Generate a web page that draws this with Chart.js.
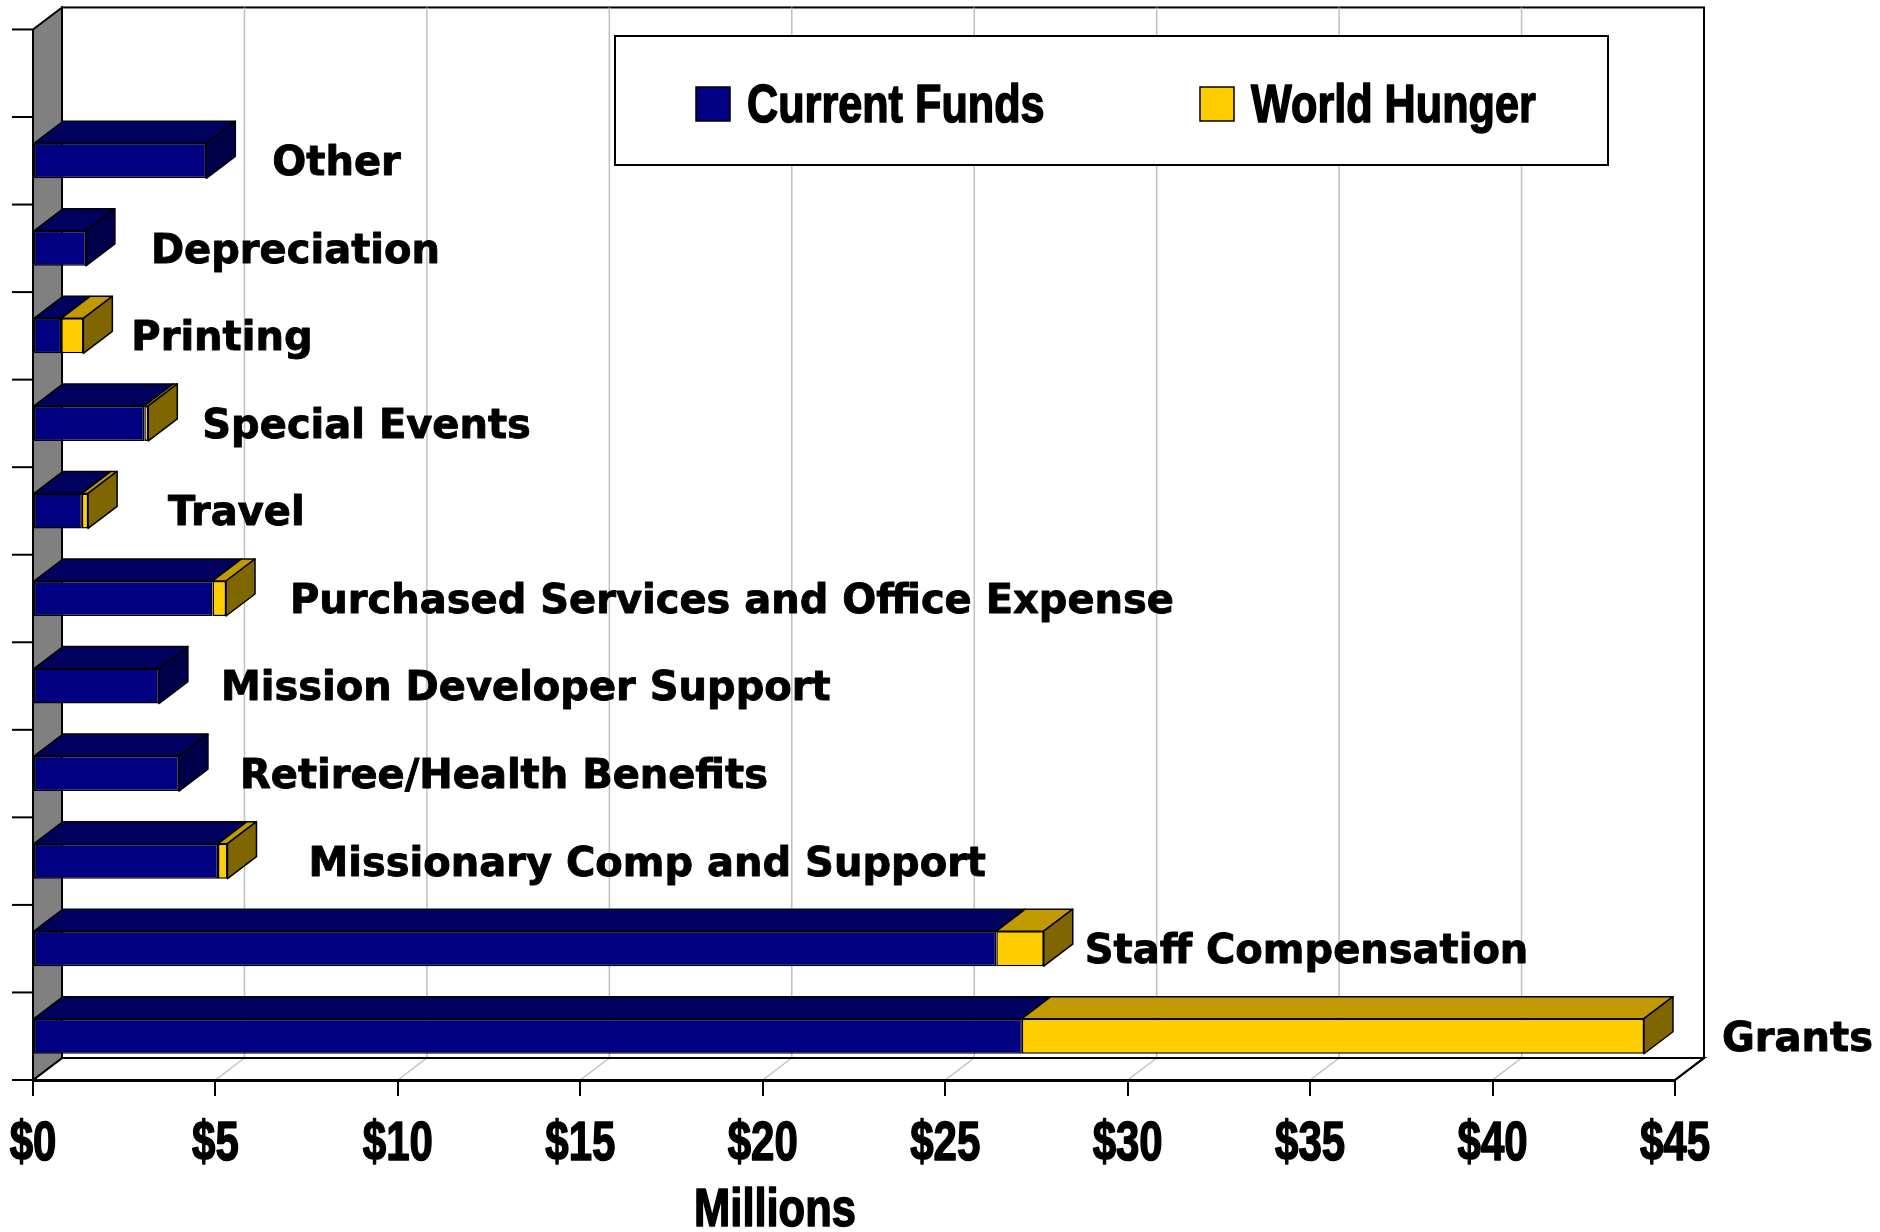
<!DOCTYPE html>
<html>
<head>
<meta charset="utf-8">
<title>Expenses</title>
<script src="https://cdn.jsdelivr.net/npm/chart.js@4.4.1/dist/chart.umd.min.js"></script>
<style>
    html, body { margin: 0; padding: 0; background: #ffffff; }
    #wrap { width: 1880px; height: 1232px; }
</style>
</head>
<body>
<div id="wrap"><canvas id="expenseChart" width="1880" height="1232"></canvas></div>
<script>
// data (millions of dollars)
const categories = ['Other', 'Depreciation', 'Printing', 'Special Events', 'Travel',
    'Purchased Services and Office Expense', 'Mission Developer Support',
    'Retiree/Health Benefits', 'Missionary Comp and Support', 'Staff Compensation', 'Grants'];
const currentFunds = [4.75, 1.45, 0.77, 3.05, 1.34, 4.92, 3.45, 4.0, 5.07, 26.4, 27.1];
const worldHunger = [0, 0, 0.61, 0.11, 0.17, 0.37, 0, 0, 0.26, 1.3, 17.05];
const tickValues = [0, 5, 10, 15, 20, 25, 30, 35, 40, 45];
const seriesNames = ['Current Funds', 'World Hunger'];

const DX = 29, DY = -22;
const narrowFont = '"Liberation Sans", Arial, sans-serif';
const labelFont = '"DejaVu Sans", Verdana, sans-serif';
const faceColors = [
    { front: '#000080', top: '#00005e', side: '#00004a' },
    { front: '#ffcc00', top: '#c09a00', side: '#806600' }
];
// extra space between each bar and its label
const labelGap = [37, 36, 19, 25, 51, 35, 33, 32, 52, 12, 49];

function poly(ctx, pts, fill) {
    ctx.beginPath();
    ctx.moveTo(pts[0][0], pts[0][1]);
    for (let i = 1; i < pts.length; i++) ctx.lineTo(pts[i][0], pts[i][1]);
    ctx.closePath();
    if (fill) { ctx.fillStyle = fill; ctx.fill(); }
    ctx.stroke();
}

// condensed heavy text, squeezed horizontally
function narrowText(ctx, text, x, y, size, sx, align) {
    ctx.save();
    ctx.translate(x, y);
    ctx.scale(sx, 1);
    ctx.font = 'bold ' + size + 'px ' + narrowFont;
    ctx.textAlign = align;
    ctx.textBaseline = 'middle';
    ctx.fillStyle = '#000';
    ctx.strokeStyle = '#000';
    ctx.lineWidth = 1.6;
    ctx.lineJoin = 'round';
    ctx.fillText(text, 0, 0);
    ctx.strokeText(text, 0, 0);
    ctx.restore();
}

const frame3d = {
    id: 'frame3d',
    beforeDraw(chart) {
        const ctx = chart.ctx, ca = chart.chartArea, xs = chart.scales.x;
        const slot = (ca.bottom - ca.top) / categories.length;
        const top = ca.top - slot;
        ctx.save();
        ctx.strokeStyle = '#000';
        ctx.lineWidth = 2;
        // back wall
        ctx.fillStyle = '#fff';
        ctx.fillRect(ca.left + DX, top + DY, ca.right - ca.left, ca.bottom - top);
        ctx.strokeRect(ca.left + DX, top + DY, ca.right - ca.left, ca.bottom - top);
        // floor
        poly(ctx, [[ca.left, ca.bottom], [ca.left + DX, ca.bottom + DY], [ca.right + DX, ca.bottom + DY], [ca.right, ca.bottom]], '#fff');
        // gridlines on wall and floor
        ctx.strokeStyle = '#c0c0c0';
        ctx.lineWidth = 1.5;
        tickValues.forEach(v => {
            if (v === 0 || v === 45) return;
            const x = xs.getPixelForValue(v);
            ctx.beginPath();
            ctx.moveTo(x + DX, top + DY);
            ctx.lineTo(x + DX, ca.bottom + DY);
            ctx.lineTo(x, ca.bottom);
            ctx.stroke();
        });
        ctx.strokeStyle = '#000';
        ctx.lineWidth = 2;
        ctx.beginPath();
        ctx.moveTo(ca.left + DX, ca.bottom + DY);
        ctx.lineTo(ca.right + DX, ca.bottom + DY);
        ctx.lineTo(ca.right, ca.bottom);
        ctx.stroke();
        // left wall
        poly(ctx, [[ca.left, top], [ca.left + DX, top + DY], [ca.left + DX, ca.bottom + DY], [ca.left, ca.bottom]], '#808080');
        // category ticks
        for (let k = 0; k <= categories.length + 1; k++) {
            const y = top + k * slot;
            ctx.beginPath();
            ctx.moveTo(ca.left - 21, y);
            ctx.lineTo(ca.left, y);
            ctx.stroke();
        }
        ctx.restore();
    },
    afterDatasetsDraw(chart) {
        const ctx = chart.ctx;
        ctx.save();
        ctx.lineJoin = 'round';
        const metas = [chart.getDatasetMeta(0), chart.getDatasetMeta(1)];
        for (let j = 0; j < categories.length; j++) {
            let last = null, end = 0, cy = 0;
            ctx.strokeStyle = '#000';
            ctx.lineWidth = 1.5;
            metas.forEach((meta, i) => {
                const el = meta.data[j];
                const p = el.getProps(['x', 'base', 'y', 'height'], true);
                const l = Math.min(p.x, p.base), r = Math.max(p.x, p.base);
                const t = p.y - p.height / 2;
                cy = p.y;
                if (r - l < 0.5) return;
                poly(ctx, [[l, t], [l + DX, t + DY], [r + DX, t + DY], [r, t]], faceColors[i].top);
                last = { i: i, r: r, t: t, h: p.height };
            });
            if (last) {
                const c = faceColors[last.i];
                poly(ctx, [[last.r, last.t], [last.r + DX, last.t + DY], [last.r + DX, last.t + DY + last.h], [last.r, last.t + last.h]], c.side);
                end = last.r;
            }
            // category label beside the bar
            ctx.fillStyle = '#000';
            ctx.lineWidth = 0.9;
            ctx.font = 'bold 40px ' + labelFont;
            ctx.textAlign = 'left';
            ctx.textBaseline = 'middle';
            ctx.fillText(categories[j], end + DX + labelGap[j], cy + 4);
            ctx.strokeText(categories[j], end + DX + labelGap[j], cy + 4);
        }
        ctx.restore();
    },
    afterDraw(chart) {
        const ctx = chart.ctx, xs = chart.scales.x;
        ctx.save();
        // tick labels
        tickValues.forEach(v => {
            narrowText(ctx, '$' + v, xs.getPixelForValue(v), 1145, 56, 0.75, 'center');
        });
        // legend box
        ctx.fillStyle = '#fff';
        ctx.fillRect(615, 36, 993, 129);
        ctx.strokeStyle = '#000';
        ctx.lineWidth = 2;
        ctx.strokeRect(615, 36, 993, 129);
        const items = [[696, 747], [1200, 1251]];
        items.forEach((it, i) => {
            ctx.fillStyle = faceColors[i].front;
            ctx.fillRect(it[0], 87, 34, 34);
            ctx.lineWidth = 1.5;
            ctx.strokeRect(it[0], 87, 34, 34);
            narrowText(ctx, seriesNames[i], it[1], 107, 54, 0.8, 'left');
        });
        // axis title
        narrowText(ctx, 'Millions', 775, 1211, 53, 0.82, 'center');
        ctx.restore();
    }
};

var ctx = document.getElementById('expenseChart').getContext('2d');
var expenseChart = new Chart(ctx, {
    type: 'bar',
    data: {
        labels: categories,
        datasets: [{
            label: seriesNames[0],
            data: currentFunds,
            backgroundColor: faceColors[0].front,
            borderColor: '#000',
            borderWidth: 1.5,
            borderSkipped: false
        }, {
            label: seriesNames[1],
            data: worldHunger,
            backgroundColor: faceColors[1].front,
            borderColor: '#000',
            borderWidth: 1.5,
            borderSkipped: false
        }]
    },
    options: {
        indexAxis: 'y',
        responsive: false,
        animation: false,
        categoryPercentage: 1,
        barPercentage: 0.4,
        layout: {
            padding: { left: 33, right: 205, top: 117, bottom: 0 }
        },
        plugins: {
            legend: { display: false },
            tooltip: { enabled: false }
        },
        scales: {
            y: {
                type: 'category',
                stacked: true,
                display: false
            },
            x: {
                type: 'linear',
                stacked: true,
                min: 0,
                max: 45,
                afterBuildTicks: scale => { scale.ticks = tickValues.map(v => ({ value: v })); },
                afterFit: scale => { scale.height = 152; },
                grid: {
                    drawOnChartArea: false,
                    drawTicks: true,
                    tickLength: 16,
                    color: '#000',
                    lineWidth: 2
                },
                border: { color: '#000', width: 3 },
                ticks: { display: false }
            }
        }
    },
    plugins: [frame3d]
});
</script>
</body>
</html>
